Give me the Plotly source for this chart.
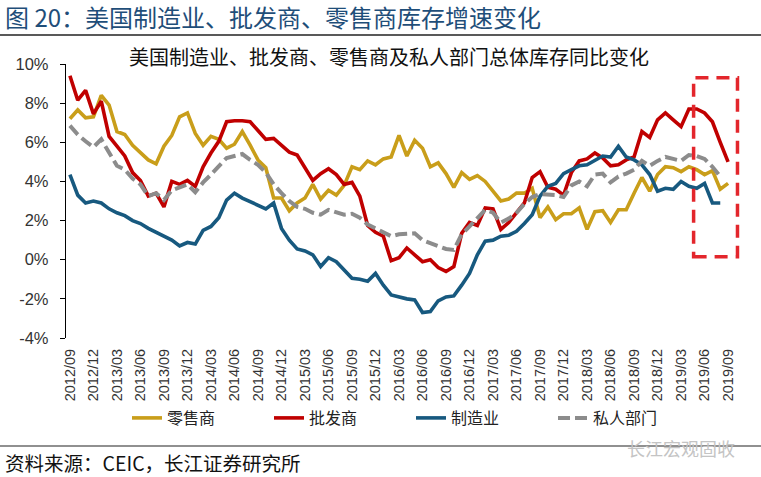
import plotly.graph_objects as go

# ---------------- data ----------------
months = []
_y, _m = 2012, 9
for _ in range(85):
    months.append(f"{_y}/{_m:02d}")
    _m += 1
    if _m > 12:
        _m = 1
        _y += 1

tick_labels = [
    "2012/09", "2012/12", "2013/03", "2013/06", "2013/09", "2013/12",
    "2014/03", "2014/06", "2014/09", "2014/12", "2015/03", "2015/06",
    "2015/09", "2015/12", "2016/03", "2016/06", "2016/09", "2016/12",
    "2017/03", "2017/06", "2017/09", "2017/12", "2018/03", "2018/06",
    "2018/09", "2018/12", "2019/03", "2019/06", "2019/09",
]

# 零售商 (retail), 2012/09 - 2019/09
retail = [
    7.2, 7.65, 7.25, 7.3, 8.4, 7.9, 6.55, 6.4, 5.85, 5.45,
    5.1, 4.9, 5.8, 6.35, 7.3, 7.5, 6.45, 5.85, 6.3, 6.15,
    5.7, 5.9, 6.55, 5.85, 5.1, 4.7, 3.15, 3.15, 2.5, 2.9,
    3.15, 3.85, 3.1, 3.55, 3.3, 3.8, 4.75, 4.6, 5.05, 4.85,
    5.15, 5.25, 6.35, 5.3, 6.1, 5.7, 4.75, 4.95, 4.4, 3.7,
    4.45, 4.1, 4.3, 4.0, 3.5, 3.0, 3.1, 3.4, 3.4, 3.65,
    2.15, 2.7, 2.05, 2.35, 2.35, 2.65, 1.55, 2.45, 2.5, 1.9,
    2.55, 2.55, 3.4, 4.2, 3.5, 4.35, 4.75, 4.7, 4.5, 4.75,
    4.6, 4.35, 4.55, 3.6, 3.9,
]

# 批发商 (wholesale), 2012/09 - 2019/09
wholesale = [
    9.4, 8.15, 8.65, 7.45, 8.1, 6.3, 5.8, 5.3, 4.45, 4.05,
    3.25, 3.4, 2.7, 4.0, 3.85, 4.05, 3.75, 4.75, 5.45, 6.05,
    7.05, 7.1, 7.1, 7.05, 6.6, 6.15, 6.2, 5.85, 5.5, 5.35,
    4.7, 4.05, 4.4, 4.65, 4.35, 3.85, 3.95, 3.25, 1.75, 1.4,
    1.2, -0.05, 0.1, 0.6, 0.25, -0.1, 0.0, -0.4, -0.6, -0.35,
    1.35, 1.9, 1.75, 2.65, 2.6, 1.55, 1.9, 2.4, 2.9, 4.2,
    4.5, 3.7, 3.6, 3.3, 4.45, 5.05, 5.15, 5.45, 5.2, 4.8,
    4.85, 5.1, 5.25, 6.55, 6.25, 7.15, 7.5, 7.15, 6.8, 7.7,
    7.7, 7.5, 7.05, 6.0, 5.0,
]

# 制造业 (manufacturing), 2012/09 - 2019/08
manufacturing = [
    4.35, 3.3, 2.9, 3.0, 2.9, 2.6, 2.4, 2.25, 2.0, 1.85,
    1.6, 1.4, 1.2, 1.0, 0.7, 0.88, 0.8, 1.5, 1.7, 2.15,
    3.05, 3.4, 3.15, 2.98, 2.8, 2.6, 2.9, 1.6, 1.0, 0.55,
    0.45, 0.25, -0.35, 0.1, -0.1, -0.5, -0.95, -1.0, -1.1, -0.7,
    -1.3, -1.8, -1.9, -2.0, -2.05, -2.7, -2.65, -2.1, -1.9, -1.85,
    -1.3, -0.7, 0.25, 0.95, 1.0, 1.2, 1.25, 1.45, 1.85, 2.3,
    3.25, 3.75, 3.9, 4.4, 4.6, 4.8, 4.85, 5.1, 5.3, 5.25,
    5.8, 5.25, 5.1, 4.85, 4.35, 3.5, 3.65, 3.6, 4.0, 3.75,
    3.65, 3.9, 2.9, 2.9,
]

# 私人部门 (private sector total), 2012/09 - 2019/08
private = [
    6.85, 6.4, 6.05, 5.75, 6.15, 5.5, 4.8, 4.6, 4.15, 3.85,
    3.25, 3.4, 3.05, 3.55, 3.7, 3.85, 3.45, 3.95, 4.35, 4.75,
    5.2, 5.3, 5.4, 5.1, 4.85, 4.45, 3.85, 3.4, 3.0, 2.7,
    2.6, 2.4, 2.3, 2.55, 2.45, 2.3, 2.35, 2.15, 1.8, 1.6,
    1.4, 1.2, 1.3, 1.3, 1.35, 1.0, 0.85, 0.65, 0.55, 0.5,
    1.3, 1.7, 2.1, 2.55, 2.4, 1.9, 2.1, 2.4, 2.85, 3.2,
    3.35, 3.35, 3.3, 3.2, 3.8, 4.0, 3.75, 4.35, 4.4, 3.95,
    4.25, 4.4, 4.6, 5.05, 4.8, 5.05, 5.25, 5.15, 5.05, 5.35,
    5.3, 5.15, 4.75, 4.25,
]

y_ticks = [-4, -2, 0, 2, 4, 6, 8, 10]

# ---------------- styles / layout constants ----------------
W, H = 761, 477
ML, MR, MT, MB = 66, 29, 64, 139
PW, PH = W - ML - MR, H - MT - MB

FONT = "Liberation Sans, Arial, Noto Sans CJK SC, sans-serif"
CJK = "Noto Sans CJK SC, Liberation Sans, sans-serif"

C_RETAIL = "#C99E1A"
C_WHOLE = "#C00000"
C_MANU = "#17597F"
C_PRIV = "#8C8C8C"
C_TITLE = "#1F4E79"

# highlight box (month-index units / percent)
HL_X0, HL_X1 = 79.6, 85.2
HL_Y0, HL_Y1 = 0.15, 9.3

X_MIN, X_MAX = -0.5, len(months) - 0.5


def px(xpix):
    return (xpix - ML) / PW


def py(ypix):
    return (H - MB - ypix) / PH


def xi_to_paper(xi):
    return (xi - X_MIN) / (X_MAX - X_MIN)


pos = {m: i for i, m in enumerate(months)}
tick_pos = [pos[t] for t in tick_labels]
boundary_pos = [p - 0.5 for p in tick_pos]

fig = go.Figure()


def add_line(name, values, color, dash="solid", width=3.6):
    fig.add_trace(go.Scatter(
        x=[pos[m] for m in months[:len(values)]],
        y=values,
        name=name,
        mode="lines",
        line=dict(color=color, width=width, dash=dash),
        text=months[:len(values)],
        hovertemplate="%{text}: %{y:.2f}%<extra>" + name + "</extra>",
    ))


add_line("零售商", retail, C_RETAIL)
add_line("批发商", wholesale, C_WHOLE)
add_line("制造业", manufacturing, C_MANU)
add_line("私人部门", private, C_PRIV, dash="12px,5px", width=4)

fig.update_layout(
    width=W, height=H,
    margin=dict(l=ML, r=MR, t=MT, b=MB, autoexpand=False),
    paper_bgcolor="white",
    plot_bgcolor="white",
    font=dict(family=FONT, color="#333333"),
    showlegend=True,
    legend=dict(
        orientation="h",
        xref="paper", yref="paper",
        x=px(127), xanchor="left",
        y=py(418), yanchor="middle",
        font=dict(family=CJK, size=16, color="#222222"),
        entrywidth=97, entrywidthmode="pixels",
        bgcolor="rgba(0,0,0,0)",
        traceorder="normal",
    ),
    xaxis=dict(
        range=[X_MIN, X_MAX],
        tickmode="array",
        tickvals=tick_pos,
        ticktext=tick_labels,
        tickangle=-90,
        ticks="",
        showline=False,
        showgrid=False,
        zeroline=False,
        automargin=False,
        tickfont=dict(family=FONT, size=14.5, color="#333333"),
        ticklabelstandoff=7,
        fixedrange=True,
    ),
    xaxis2=dict(
        overlaying="x",
        anchor="free",
        position=(0 - y_ticks[0]) / (y_ticks[-1] - y_ticks[0]),
        side="bottom",
        range=[X_MIN, X_MAX],
        tickmode="array",
        tickvals=boundary_pos,
        showticklabels=False,
        ticks="outside",
        ticklen=5,
        tickcolor="#000000",
        tickwidth=1.2,
        showline=True,
        linecolor="#000000",
        linewidth=1.3,
        showgrid=False,
        zeroline=False,
        automargin=False,
        fixedrange=True,
    ),
    yaxis=dict(
        range=[y_ticks[0], y_ticks[-1]],
        tickmode="array",
        tickvals=y_ticks,
        ticktext=[f"{v}%" for v in y_ticks],
        ticks="outside",
        ticklen=5,
        tickcolor="#000000",
        tickwidth=1.2,
        showline=True,
        linecolor="#000000",
        linewidth=1.3,
        showgrid=False,
        zeroline=False,
        automargin=False,
        tickfont=dict(family=FONT, size=16.5, color="#333333"),
        ticklabelstandoff=8,
        fixedrange=True,
    ),
)

# highlight dashed rectangle
fig.add_shape(
    type="rect", xref="paper", yref="y",
    x0=xi_to_paper(HL_X0), x1=xi_to_paper(HL_X1), y0=HL_Y0, y1=HL_Y1,
    line=dict(color="#E3262C", width=3.5, dash="13px,8px"),
    fillcolor="rgba(0,0,0,0)", layer="above",
)

# separators
fig.add_shape(type="line", xref="paper", yref="paper",
              x0=px(0), x1=px(W), y0=py(35), y1=py(35),
              line=dict(color="#222222", width=1.5))
fig.add_shape(type="line", xref="paper", yref="paper",
              x0=px(0), x1=px(W), y0=py(446), y1=py(446),
              line=dict(color="#222222", width=1.2))

# texts
fig.add_annotation(
    text="图 20：美国制造业、批发商、零售商库存增速变化",
    xref="paper", yref="paper", x=px(3), y=py(16),
    xanchor="left", yanchor="middle", showarrow=False,
    font=dict(family=CJK, size=24, color=C_TITLE),
)
fig.add_annotation(
    text="美国制造业、批发商、零售商及私人部门总体库存同比变化",
    xref="paper", yref="paper", x=px(389), y=py(57),
    xanchor="center", yanchor="middle", showarrow=False,
    font=dict(family=CJK, size=20, color="#111111"),
)
fig.add_annotation(
    text="资料来源：CEIC，长江证券研究所",
    xref="paper", yref="paper", x=px(3), y=py(462),
    xanchor="left", yanchor="middle", showarrow=False,
    font=dict(family=CJK, size=19.5, color="#111111"),
)
fig.add_annotation(
    text="长江宏观固收",
    xref="paper", yref="paper", x=px(737), y=py(448),
    xanchor="right", yanchor="middle", showarrow=False,
    font=dict(family=CJK, size=18, color="#C4C4C4"),
)

fig.write_html(
    "out.html",
    config={"displayModeBar": False},
    post_script="document.body.style.margin='0';document.body.style.padding='0';",
)
